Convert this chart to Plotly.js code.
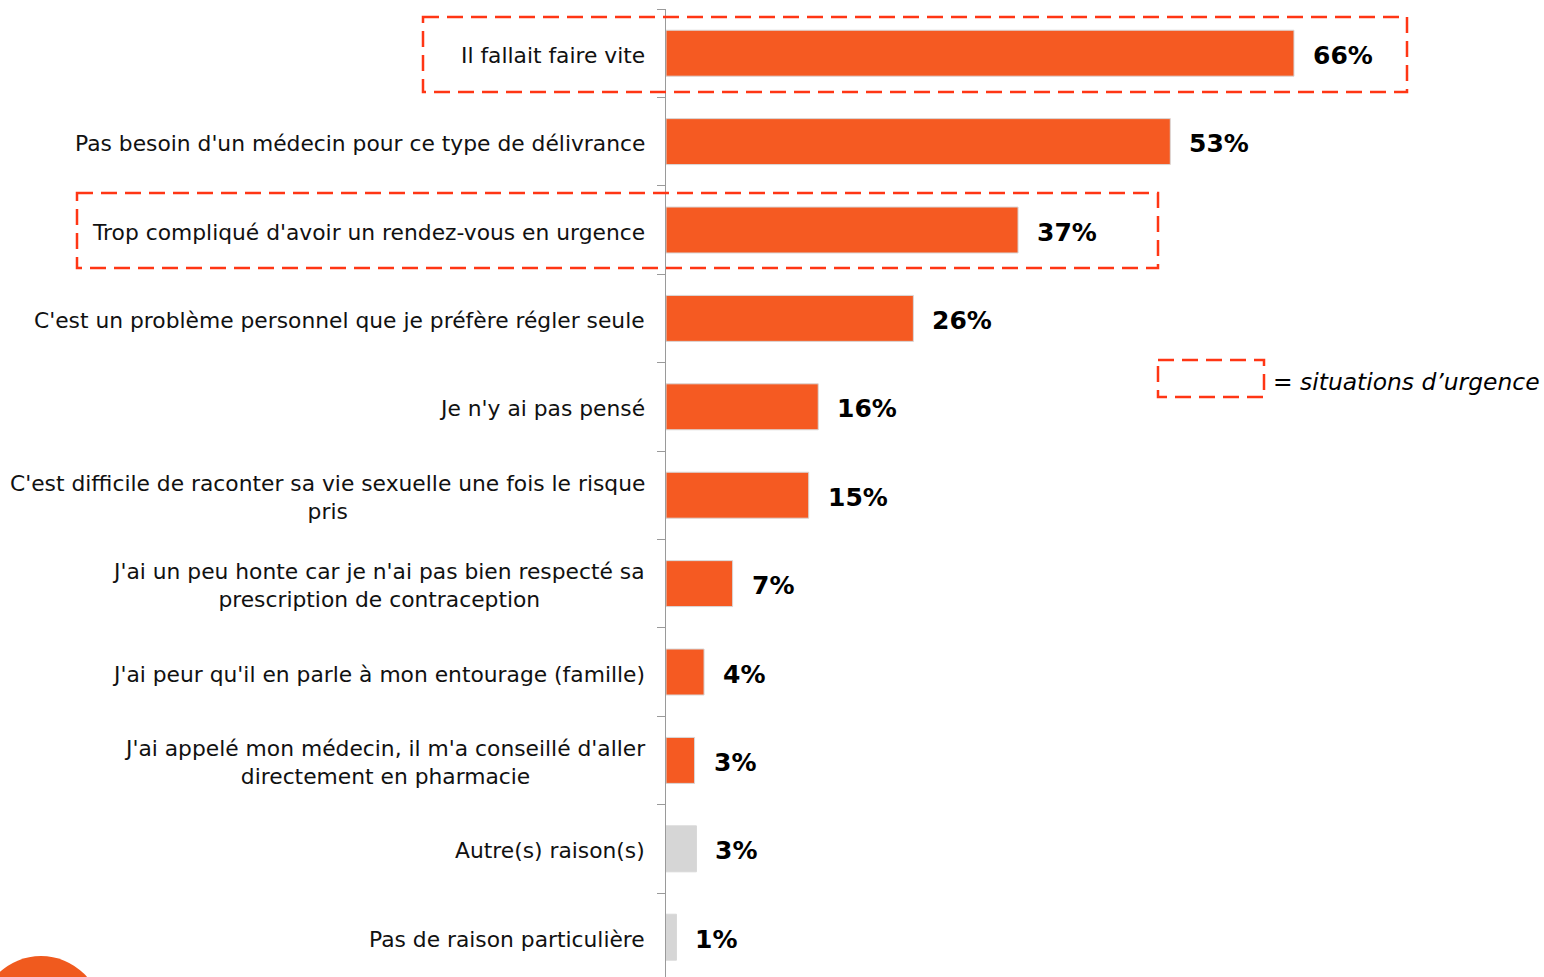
<!DOCTYPE html>
<html><head><meta charset="utf-8">
<script src="https://cdn.plot.ly/plotly-3.0.1.min.js"></script>
<style>html,body{margin:0;padding:0;background:#fff;}#chart{width:1544px;height:977px;}</style>
</head><body><div id="chart"></div>
<script>
const categories = [
  "Il fallait faire vite",
  "Pas besoin d'un médecin pour ce type de délivrance",
  "Trop compliqué d'avoir un rendez-vous en urgence",
  "C'est un problème personnel que je préfère régler seule",
  "Je n'y ai pas pensé",
  "C'est difficile de raconter sa vie sexuelle une fois le risque<br>pris",
  "J'ai un peu honte car je n'ai pas bien respecté sa<br>prescription de contraception",
  "J'ai peur qu'il en parle à mon entourage (famille)",
  "J'ai appelé mon médecin, il m'a conseillé d'aller<br>directement en pharmacie",
  "Autre(s) raison(s)",
  "Pas de raison particulière"
];
const values = [66, 53, 37, 26, 16, 15, 7, 4, 3, 3.2, 1.1];
const valueLabels = ["66%", "53%", "37%", "26%", "16%", "15%", "7%", "4%", "3%", "3%", "1%"];
const isOther = [false,false,false,false,false,false,false,false,false,true,true];

const W = 1544, H = 977;
const mL = 666, mR = 0, mT = 9, mB = 0;
const px = x => (x - mL) / (W - mL - mR);
const py = y => 1 - (y - mT) / (H - mT - mB);

const orange = "#F55A22", grey = "#D6D6D6", red = "#FF3614";

const trace = {
  type: "bar", orientation: "h",
  x: values, y: categories,
  marker: { color: isOther.map(o => o ? grey : orange), line: { color: "#d8d8d8", width: 1 } },
  hoverinfo: "none", cliponaxis: false
};

const annotations = [];
values.forEach((v, i) => {
  annotations.push({
    x: v, y: categories[i], xref: "x", yref: "y",
    text: valueLabels[i], showarrow: false, xanchor: "left", yanchor: "middle",
    xshift: 17, yshift: -2, font: { family: "DejaVu Sans", size: 25, color: "#000", weight: "bold" }
  });
  annotations.push({
    x: px(647), y: categories[i], xref: "paper", yref: "y",
    text: categories[i], showarrow: false, xanchor: "right", yanchor: "middle", align: "center",
    yshift: -2, font: { family: "DejaVu Sans", size: 21.8, color: "#111" }
  });
});
annotations.push({
  xref: "paper", yref: "paper", x: px(1271), y: py(382), xanchor: "left", yanchor: "middle",
  showarrow: false,
  text: "= <i>situations d’urgence</i>",
  font: { family: "DejaVu Sans", size: 23.4, color: "#000" }
});

const dash = { color: red, width: 2.5, dash: "16px,8px" };
const shapes = [
  { type: "rect", xref: "paper", yref: "paper", x0: px(423), x1: px(1407), y0: py(17), y1: py(92), line: dash },
  { type: "rect", xref: "paper", yref: "paper", x0: px(77), x1: px(1158), y0: py(193), y1: py(268), line: dash },
  { type: "rect", xref: "paper", yref: "paper", x0: px(1158), x1: px(1264), y0: py(360), y1: py(397), line: dash },
  { type: "circle", xref: "paper", yref: "paper", x0: px(-20), x1: px(102), y0: py(956), y1: py(1078),
    fillcolor: "#F05A1E", line: { width: 0 } }
];

const layout = {
  width: W, height: H,
  margin: { l: mL, r: mR, t: mT, b: mB, pad: 0 },
  paper_bgcolor: "#fff", plot_bgcolor: "#fff",
  showlegend: false, bargap: 0.48,
  xaxis: { range: [0, (W - mL - mR) / 9.515], showgrid: false, zeroline: false,
           showticklabels: false, showline: false, ticks: "", fixedrange: true },
  yaxis: { type: "category", range: [10.45, -0.5], showgrid: false, zeroline: false,
           showline: true, linecolor: "#9a9a9a", linewidth: 1,
           ticks: "outside", tickson: "boundaries", ticklen: 8, tickcolor: "#9a9a9a",
           showticklabels: false },
  shapes: shapes, annotations: annotations
};

Plotly.newPlot("chart", [trace], layout, { displayModeBar: false, staticPlot: true });
</script></body></html>
